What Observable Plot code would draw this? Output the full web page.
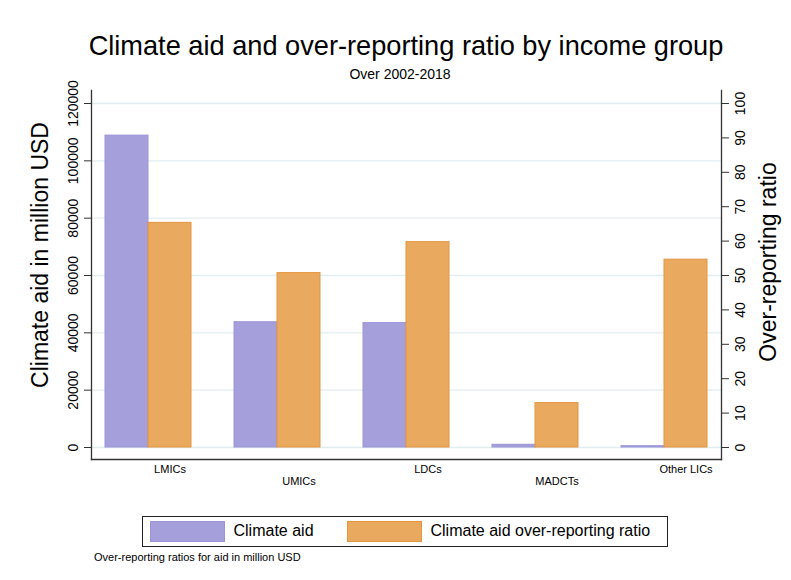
<!DOCTYPE html>
<html><head><meta charset="utf-8">
<script src="https://cdn.jsdelivr.net/npm/d3@7"></script>
<script src="https://cdn.jsdelivr.net/npm/@observablehq/plot@0.6"></script>
<style>
body{margin:0;background:#fff;font-family:"Liberation Sans",Arial,Helvetica,sans-serif;color:#000;}
#wrap{width:791px;height:580px;position:relative;overflow:hidden;background:#fff}
#header{height:85px;text-align:center;}
#title{padding-top:30px;padding-left:21px;font-size:27.2px;line-height:32px;}
#subtitle{margin-top:4px;padding-left:9px;font-size:14px;line-height:16px;}
#chart svg{overflow:visible;display:block}
#legend{position:relative;margin-top:21px;margin-left:142px;width:526px;height:31px;box-sizing:border-box;border:1.5px solid #222;}
.sw{position:absolute;top:3.5px;width:75px;height:21px;box-sizing:border-box;border:1px solid}
.lt{position:absolute;top:0;line-height:28px;font-size:16px;white-space:nowrap}
#caption{margin-top:4px;margin-left:94px;font-size:11px;line-height:13px;}
</style></head><body><div id="wrap">
<div id="header"><div id="title">Climate aid and over-reporting ratio by income group</div><div id="subtitle">Over 2002-2018</div></div>
<div id="chart"></div>
<div id="legend">
  <div class="sw" style="left:6.5px;background:#a59fdc;border-color:#9b95d8"></div>
  <div class="lt" style="left:90.5px">Climate aid</div>
  <div class="sw" style="left:203.5px;background:#e9aa5f;border-color:#e3953f"></div>
  <div class="lt" style="left:287.5px">Climate aid over-reporting ratio</div>
</div>
<div id="caption">Over-reporting ratios for aid in million USD</div>
</div>
<script>
const categories = ["LMICs", "UMICs", "LDCs", "MADCTs", "Other LICs"];
const climateAid = [108800, 43700, 43400, 950, 450];          // million USD (left axis)
const overReportingRatio = [65.3, 50.7, 59.7, 12.9, 54.6];    // ratio (right axis)
const aidTicks = [0, 20000, 40000, 60000, 80000, 100000, 120000];
const ratioTicks = [0, 10, 20, 30, 40, 50, 60, 70, 80, 90, 100];

const k = 120000 / 100; // right axis 0-100 aligned with left 0-120000
const data = categories.map((c, i) => ({group: c, aid: climateAid[i], ratio: overReportingRatio[i]}));
const evenCats = categories.filter((d, i) => i % 2 === 0);
const oddCats = categories.filter((d, i) => i % 2 === 1);

const purple = "#a59fdc", purpleEdge = "#9b95d8";
const orange = "#e9aa5f", orangeEdge = "#e3953f";

const chart = Plot.plot({
  width: 791,
  height: 410,
  marginTop: 5,
  marginBottom: 36,
  marginLeft: 91,
  marginRight: 70,
  style: {fontFamily: "'Liberation Sans', Arial, sans-serif", overflow: "visible", background: "transparent"},
  x: {domain: categories, paddingInner: 0.3346, paddingOuter: 0.1044, align: 0.5, axis: null},
  y: {domain: [-4186, 124535], nice: false, axis: null},
  marks: [
    Plot.gridY(aidTicks, {stroke: "#e2edf0", strokeOpacity: 1, strokeWidth: 1.3}),
    Plot.barY(data, {x: "group", y: "aid", fill: purple, stroke: purpleEdge, strokeWidth: 1, insetRight: 43}),
    Plot.barY(data, {x: "group", y: d => d.ratio * k, fill: orange, stroke: orangeEdge, strokeWidth: 1, insetLeft: 43}),
    Plot.frame({anchor: "left", stroke: "#333", strokeWidth: 1.3}),
    Plot.frame({anchor: "bottom", stroke: "#333", strokeWidth: 1.3}),
    Plot.frame({anchor: "right", stroke: "#333", strokeWidth: 1.3}),
    Plot.axisY({anchor: "left", ticks: aidTicks, tickFormat: d => String(d), tickSize: 7, tickPadding: 7, tickRotate: -90, fontSize: 14, label: null, stroke: "#333", color: "#000"}),
    Plot.axisY({anchor: "right", ticks: ratioTicks.map(r => r * k), tickFormat: d => String(Math.round(d / k)), tickSize: 7, tickPadding: 16, tickRotate: -90, fontSize: 14, label: null, stroke: "#333"}),
    Plot.axisX(evenCats, {anchor: "bottom", tickSize: 0, tickPadding: 6, dx: 21.5, fontSize: 11, label: null}),
    Plot.axisX(oddCats, {anchor: "bottom", tickSize: 0, tickPadding: 18, dx: 21.5, fontSize: 11, label: null}),
    Plot.text(["Climate aid in million USD"], {text: d => d, frameAnchor: "left", textAnchor: "middle", rotate: -90, dx: -51, dy: -20, fontSize: 23, fill: "#000"}),
    Plot.text(["Over-reporting ratio"], {text: d => d, frameAnchor: "right", textAnchor: "middle", rotate: -90, dx: 47, dy: -13, fontSize: 23, fill: "#000"})
  ]
});
document.getElementById("chart").appendChild(chart);
</script>
</body></html>
